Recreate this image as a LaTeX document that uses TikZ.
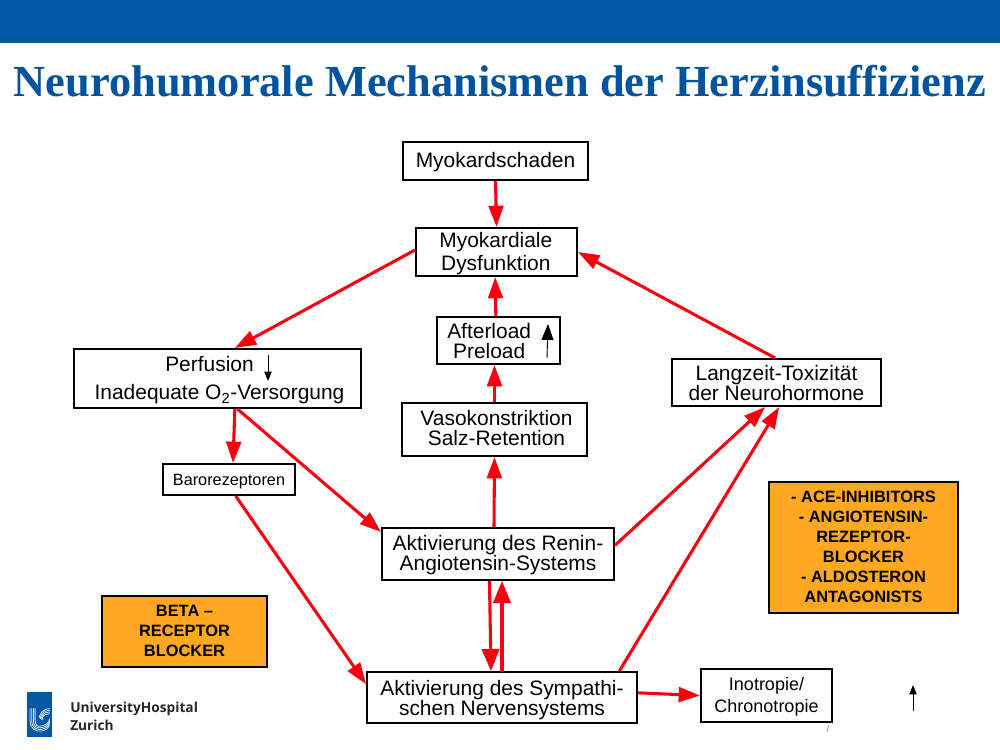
\documentclass[tikz,border=0pt]{standalone}
\usepackage{fontspec}
\usetikzlibrary{arrows.meta}
\setmainfont{Liberation Sans}
\newfontfamily\titlefont{Liberation Serif}
\newfontfamily\logofont{Open Sans}
\definecolor{uzhblue}{HTML}{0057A2}
\definecolor{titleblue}{HTML}{00549F}
\definecolor{boxorange}{HTML}{FFA820}
\definecolor{arrowred}{HTML}{F8000E}
\newcommand{\tstrut}[1]{\rule{0pt}{#1}}
\tikzset{
  x=0.75pt,y=-0.75pt,
  box/.style={draw=black,line width=1.5pt,fill=white,inner sep=0pt,align=center,font=\fontsize{15.7}{15}\selectfont},
  smallbox/.style={box,font=\fontsize{12.2}{15}\selectfont},
  inobox/.style={box,font=\fontsize{13.5}{16.5}\selectfont},
  orangebox/.style={draw=black,line width=0.8pt,fill=boxorange,inner sep=0pt,align=center,font=\bfseries\fontsize{12.3}{15}\selectfont,execute at end node={\rule[-1.5pt]{0pt}{1pt}}},
  redarrow/.style={draw=arrowred,line width=2.3pt,-{Triangle[length=16pt,width=11pt]}},
  bigredarrow/.style={draw=arrowred,line width=2.3pt,-{Triangle[length=16.5pt,width=13pt]}},
  blackarrow/.style={draw=black,line width=0.7pt,-{Triangle[length=7pt,width=5.5pt]}},
  blackbigarrow/.style={draw=black,line width=0.7pt,-{Triangle[length=12pt,width=9pt]}},
  logoline/.style={draw=white!85!uzhblue,line width=0.6pt,line cap=round},
}
\begin{document}
\begin{tikzpicture}
\useasboundingbox (0,0) rectangle (1000,750);
\fill[uzhblue] (0,0) rectangle (1000,43);
\node[text=titleblue,font=\titlefont\bfseries\fontsize{33.3}{36}\selectfont,inner sep=0pt] (title) at (500,81) {Neurohumorale Mechanismen der Herzinsuffizienz};

% boxes
\node[box,minimum width=138.75pt,minimum height=28.5pt] (schaden) at (495.5,161) {\tstrut{13pt}Myokardschaden};
\node[box,minimum width=120.75pt,minimum height=36pt] (dys) at (496.5,252) {\tstrut{14pt}\hspace*{-1pt}Myokardiale\\[2.2pt]\hspace*{-1pt}Dysfunktion};
\node[box,minimum width=92.25pt,minimum height=35.25pt] (after) at (498.5,340.5) {\tstrut{12.2pt}Afterload\hspace*{14pt}\\Preload\hspace*{14pt}};
\node[box,execute at end node={\rule[-2.3pt]{0pt}{1pt}},minimum width=138.75pt,minimum height=39.75pt] (vaso) at (494.5,429.5) {\hspace*{3pt}Vasokonstriktion\\\hspace*{3pt}Salz-Retention};
\node[box,minimum width=215.25pt,minimum height=44.25pt] (perf) at (217.5,378.5) {\tstrut{14.5pt}Perfusion\hspace*{12pt}\\[6pt]\hspace*{3pt}Inadequate O\textsubscript{2}-Versorgung};
\node[smallbox,minimum width=99pt,minimum height=23.25pt] (baro) at (229,479.5) {\tstrut{11.9pt}Barorezeptoren};
\node[box,minimum width=156.75pt,minimum height=35.25pt] (lang) at (776.5,382.5) {\tstrut{11.5pt}Langzeit-Toxizität\\der Neurohormone};
\node[box,minimum width=174pt,minimum height=39pt] (renin) at (498,554) {\tstrut{13.7pt}Aktivierung des Renin-\\Angiotensin-Systems};
\node[box,minimum width=202.5pt,minimum height=38.25pt] (symp) at (502,697.5) {\tstrut{15pt}Aktivierung des Sympathi-\\schen Nervensystems};
\node[inobox,minimum width=98.25pt,minimum height=39.75pt] (ino) at (766.5,695.5) {\tstrut{11.5pt}Inotropie/\\Chronotropie};
\node[orangebox,minimum width=123.75pt,minimum height=53.25pt] (beta) at (184.5,631.5) {BETA –\\RECEPTOR\\BLOCKER};
\node[orangebox,minimum width=141.75pt,minimum height=98.25pt] (ace) at (863.5,547.5) {- ACE-INHIBITORS\\- ANGIOTENSIN-\\REZEPTOR-\\BLOCKER\\- ALDOSTERON\\ANTAGONISTS};

% connectors
\draw[redarrow] (schaden.south) -- (dys.north);
\draw[redarrow] ([yshift=1.5pt]dys.west) -- ([xshift=13pt]perf.north);
\draw[redarrow] ([xshift=-2pt]after.north) -- ([xshift=-1pt]dys.south);
\draw[redarrow] (vaso.north) -- ([xshift=-3pt]after.south);
\draw[redarrow] ([xshift=-3pt]renin.north) -- (vaso.south);
\draw[redarrow] ([yshift=6.5pt]renin.east) -- ([xshift=-8.5pt]lang.south);
\draw[redarrow] ([xshift=-1pt]lang.north) -- (dys.east);
\draw[redarrow] ([xshift=13pt]perf.south) -- ([xshift=3pt]baro.north);
\draw[redarrow] ([xshift=15pt]perf.south) -- ([yshift=16.5pt]renin.west);
\draw[redarrow] ([xshift=5pt]baro.south) -- ([yshift=10pt]symp.west);
\draw[redarrow] ([xshift=88pt]symp.north) -- ([xshift=2pt]lang.south);
\draw[redarrow] ([yshift=3.5pt]symp.east) -- (ino.west);
\draw[bigredarrow] ([xshift=-6.4pt]renin.south) -- ([xshift=-8.25pt]symp.north);
\draw[bigredarrow] ([yshift=-1pt]symp.north) -- ([xshift=3pt]renin.south);

% small black arrows
\coordinate (perfA) at (268,355);
\coordinate (perfB) at (268,381);
\draw[blackarrow] (perfA) -- (perfB);
\coordinate (aftA) at (547,358);
\coordinate (aftB) at (548,324);
\draw[blackbigarrow] (aftA) -- (aftB);
\coordinate (freeA) at (913,711);
\coordinate (freeB) at (913,685);
\draw[blackarrow] (freeA) -- (freeB);

\node[text=gray,font=\fontsize{7}{8}\selectfont,inner sep=0pt] (slash) at (828,729) {/};

% logo
\fill[uzhblue] (27,692) rectangle (52,737);
\foreach \d in {0,1.7,3.4,5.1}{
  \draw[logoline] (30+\d,708.5) -- (30+\d,720) .. controls (30+\d,729-\d*0.5) and (36+\d*0.5,732-\d) .. (42,731-\d) .. controls (46,730-\d) and (49,728-\d) .. (49.5,724-\d);
  \draw[logoline] (49.5,708.5+\d) .. controls (43,709+\d) and (40+\d*0.2,713+\d) .. (39+\d*0.8,718+\d*0.4);
}
\node[anchor=west,inner sep=0pt,font=\logofont\bfseries\fontsize{10.3}{13}\selectfont,text=black!85,align=left] (logotext) at (70,716.5) {UniversityHospital\\Zurich};
\end{tikzpicture}
\end{document}
